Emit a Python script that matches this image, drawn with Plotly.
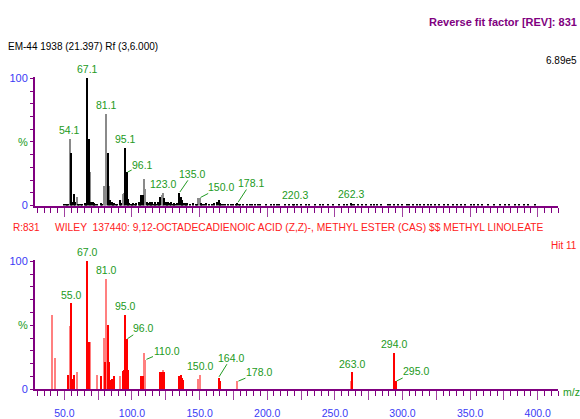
import plotly.graph_objects as go

# ---------------- data ----------------
# top (sample) spectrum: dark bars and light bars (m/z, % intensity)
top_dark_mz = [50, 51, 52, 53, 55, 56, 57, 58, 60, 61, 62, 63, 65, 66, 67, 68, 70, 71, 72, 73, 74, 77, 78,
               82, 84, 85, 86, 87, 88, 89, 91, 92, 95, 96, 97, 98, 99, 100, 101, 102, 103, 105, 106, 107, 108,
               111, 112, 113, 114, 115, 116, 117, 118, 119, 120, 121, 124, 125, 126, 127, 128, 129, 130, 131,
               132, 133, 135, 136, 137, 138, 139, 140, 141, 143, 145, 147, 148, 151, 152, 153, 155, 157, 159,
               161, 163, 164, 165, 166, 167, 169, 171, 173, 175, 177, 178, 179, 180, 182, 185, 187, 189, 191,
               193, 195, 199, 203, 205, 207, 209, 213, 216, 219, 220, 222, 225, 229, 231, 235, 239, 241, 245,
               249, 253, 257, 259, 262, 263, 264, 267, 270, 273, 277, 279, 281, 284, 289, 291, 294, 297, 300,
               303, 305, 308, 311, 313, 316, 319, 321, 324, 327, 331, 334, 337, 340, 343, 346, 351, 353, 356,
               359, 363, 368, 372, 376, 379, 383, 386, 390, 393, 398]
top_dark_int = [1, 1, 1, 1, 41, 3, 9, 3, 1, 1.5, 1, 1, 2, 1, 100, 52, 3, 3, 2, 1, 1, 2, 1,
                41, 4, 3, 1, 2, 1, 1, 4, 2, 45, 26, 5, 2, 1, 1, 2, 1, 2, 3, 2, 8, 8,
                3, 2, 3, 1, 3, 1, 3, 1, 3, 2, 7, 6, 3, 2, 3, 2, 3, 1, 2,
                1, 2, 10, 7, 4, 2, 2, 1, 2, 1, 2, 1, 1, 2, 1, 1, 2, 1, 1,
                2, 3, 4, 2, 1, 1, 1, 1, 1, 1, 1, 2, 1, 1, 1, 1, 1, 1, 1,
                0.5, 1, 1, 1, 0.5, 1, 1, 1, 0.5, 1, 1, 0.5, 1, 0.5, 0.5, 1, 0.5, 0.5, 1,
                0.5, 0.5, 0.5, 0.5, 2, 1, 0.5, 1, 0.5, 1, 0.5, 0.5, 1, 0.5, 0.5, 1, 1, 0.5, 0.5,
                0.5, 0.5, 1, 0.5, 0.5, 1, 0.5, 0.5, 0.5, 1, 0.5, 0.5, 0.5, 0.5, 0.5, 0.5, 0.5, 1, 0.5,
                0.5, 0.5, 0.5, 0.5, 0.5, 0.5, 0.5, 0.5, 0.5, 0.5, 0.5]
top_light_mz = [54, 59, 69, 79, 80, 81, 83, 93, 94, 109, 110, 122, 123, 149, 150]
top_light_int = [52, 7, 26, 15, 14, 72, 15, 9, 10, 21, 13, 8, 10, 6, 6]

# bottom (library) spectrum
bot_dark_mz = [53, 55, 56, 57, 67, 68, 77, 80, 82, 83, 84, 85, 87, 93, 94, 95, 96, 97, 107, 108,
               121, 122, 124, 135, 136, 137, 138, 164, 165, 263, 294, 295]
bot_dark_int = [11, 67, 8, 11, 100, 37, 10, 21, 50, 21, 7, 8, 10, 14, 15, 58, 39, 15, 10, 10,
                13, 13, 13, 10, 11, 9, 7, 9, 6, 13, 28, 6]
bot_light_mz = [41, 43, 54, 59, 69, 74, 79, 81, 91, 109, 110, 123, 149, 150, 178, 262]
bot_light_int = [58, 24, 49, 13, 37, 11, 40, 86, 10, 28, 23, 15, 8, 11, 6, 6]

# peak labels: (label, m/z, intensity)
top_labels = ["54.1", "67.1", "81.1", "95.1", "123.0", "220.3", "262.3"]
top_label_mz = [54.1, 67.1, 81.1, 95.1, 123.0, 220.3, 262.3]
top_label_int = [52, 100, 72, 45, 10, 1, 2]
top_lead_labels = ["96.1", "135.0", "150.0", "178.1"]
top_lead_mz = [96.1, 135.0, 150.0, 178.1]
top_lead_int = [26, 10, 6, 2]

bot_labels = ["55.0", "67.0", "81.0", "95.0", "150.0", "263.0", "294.0"]
bot_label_mz = [55.0, 67.0, 81.0, 95.0, 150.0, 263.0, 294.0]
bot_label_int = [67, 100, 86, 58, 11, 13, 28]
bot_lead_labels = ["96.0", "110.0", "164.0", "178.0", "295.0"]
bot_lead_mz = [96.0, 110.0, 164.0, 178.0, 295.0]
bot_lead_int = [39, 23, 9, 6, 6]

x_tickvals = [25, 50, 75, 100, 125, 150, 175, 200, 225, 250, 275, 300, 325, 350, 375, 400]
x_ticktext = ["", "50.0", "", "100.0", "", "150.0", "", "200.0", "", "250.0", "", "300.0", "", "350.0", "", "400.0"]
y_tickvals = [0, 50, 100]
y_ticktext = ["0", "%", "100"]

# ---------------- style ----------------
W, H = 580, 419
ML, MR = 35, 22
PURPLE = "#800080"
TICKP = "#a040a0"
GREEN = "#229a22"
BLUE = "#3a3af5"
RED = "#ff2020"
SANS = "Liberation Sans, Arial, sans-serif"

def py(p):
    return 1 - p / H

def px(p):
    return (p - ML) / (W - ML - MR)

fig = go.Figure()
BW = 0.75
fig.add_trace(go.Bar(x=top_light_mz, y=top_light_int, width=BW, marker=dict(color="#8a8a8a", line=dict(width=0)), xaxis="x", yaxis="y"))
fig.add_trace(go.Bar(x=top_dark_mz, y=top_dark_int, width=BW, marker=dict(color="#000000", line=dict(width=0)), xaxis="x", yaxis="y"))
fig.add_trace(go.Bar(x=bot_light_mz, y=bot_light_int, width=BW, marker=dict(color="#ff8080", line=dict(width=0)), xaxis="x2", yaxis="y2"))
fig.add_trace(go.Bar(x=bot_dark_mz, y=bot_dark_int, width=BW, marker=dict(color="#ff0000", line=dict(width=0)), xaxis="x2", yaxis="y2"))

ytt = [t if t != "%" else '<span style="color:%s">%%</span>' % GREEN for t in y_ticktext]

xcommon = dict(range=[28.3, 415], showline=True, linecolor=PURPLE, linewidth=2, ticks="outside",
               tickmode="array", tickvals=x_tickvals, ticktext=x_ticktext, ticklen=9, tickcolor=TICKP,
               tickwidth=1, showgrid=False, zeroline=False, ticklabelstandoff=4,
               minor=dict(dtick=5, tick0=0, ticklen=5, tickcolor=PURPLE, ticks="outside", showgrid=False),
               tickfont=dict(family=SANS, size=10.5, color=BLUE))
ycommon = dict(range=[0, 101], showline=True, linecolor=PURPLE, linewidth=2, ticks="outside",
               tickmode="array", tickvals=y_tickvals, ticktext=ytt, ticklen=3, tickcolor=PURPLE,
               showgrid=False, zeroline=False,
               minor=dict(dtick=10, tick0=0, ticklen=3, tickcolor=PURPLE, ticks="outside", showgrid=False),
               tickfont=dict(family=SANS, size=11, color=BLUE))

fig.update_layout(
    width=W, height=H, margin=dict(l=ML, r=MR, t=0, b=0),
    paper_bgcolor="white", plot_bgcolor="white", showlegend=False, bargap=0, barmode="overlay",
    xaxis=dict(**xcommon, domain=[0, 1], anchor="y", showticklabels=False),
    yaxis=dict(**ycommon, domain=[py(206), py(74)], anchor="x"),
    xaxis2=dict(**xcommon, domain=[0, 1], anchor="y2"),
    yaxis2=dict(**ycommon, domain=[py(394.5), py(262)], anchor="x2"),
)

ann = []
LF = dict(family=SANS, size=10.5, color=GREEN)
for t, m, v in zip(top_labels, top_label_mz, top_label_int):
    ann.append(dict(x=m, y=v, xref="x", yref="y", text=t, showarrow=False, yanchor="middle", yshift=9, font=LF))
for t, m, v in zip(bot_labels, bot_label_mz, bot_label_int):
    ann.append(dict(x=m, y=v, xref="x2", yref="y2", text=t, showarrow=False, yanchor="middle", yshift=9, font=LF))

top_offsets = [(16, -8), (13, -19), (21, -11), (13, -20)]
bot_offsets = [(16.5, -11), (21, -9), (12.5, -20), (21.5, -9), (20, -10)]
for (t, m, v), (ax, ay) in zip(zip(top_lead_labels, top_lead_mz, top_lead_int), top_offsets):
    ann.append(dict(x=m, y=v, xref="x", yref="y", text=t, showarrow=True, arrowhead=0, arrowwidth=1,
                    arrowcolor=GREEN, ax=ax, ay=ay, standoff=1, borderpad=0, font=LF))
for (t, m, v), (ax, ay) in zip(zip(bot_lead_labels, bot_lead_mz, bot_lead_int), bot_offsets):
    ann.append(dict(x=m, y=v, xref="x2", yref="y2", text=t, showarrow=True, arrowhead=0, arrowwidth=1,
                    arrowcolor=GREEN, ax=ax, ay=ay, standoff=1, borderpad=0, font=LF))

def txt(text, x, y, anchor, font):
    ann.append(dict(x=px(x), y=py(y), xref="paper", yref="paper", text=text, showarrow=False,
                    xanchor=anchor, yanchor="middle", font=font))

txt("Reverse fit factor [REV]: 831", 579, 17, "right", dict(family=SANS, size=11, color=PURPLE, weight="bold"))
txt("EM-44 1938 (21.397) Rf (3,6.000)", 6, 43, "left", dict(family=SANS, size=10, color="black"))
txt("6.89e5", 579, 57, "right", dict(family=SANS, size=10, color="black"))
txt("R:831", 11, 229, "left", dict(family=SANS, size=10, color=RED))
txt("WILEY  137440: 9,12-OCTADECADIENOIC ACID (Z,Z)-, METHYL ESTER (CAS) $$ METHYL LINOLEATE", 53, 229, "left",
    dict(family=SANS, size=10.3, color=RED))
txt("Hit 11", 579, 247, "right", dict(family=SANS, size=10, color=RED))
txt("m/z", 561, 397, "left", dict(family=SANS, size=10.5, color=GREEN))

fig.update_layout(annotations=ann)
fig.write_html("out.html")
